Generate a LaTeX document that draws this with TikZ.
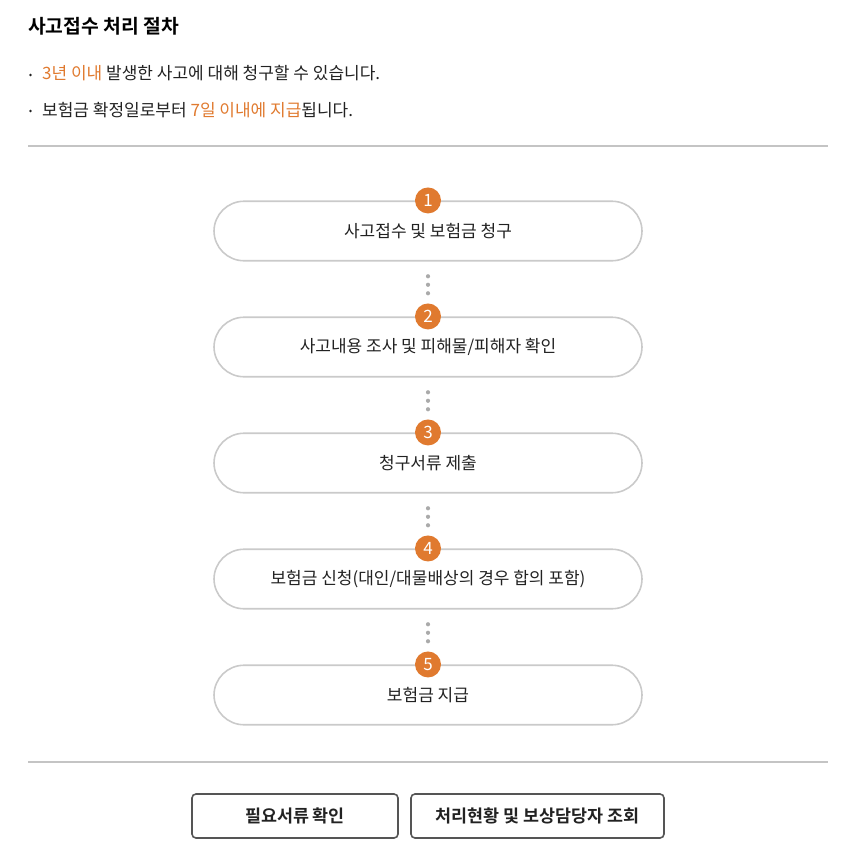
\documentclass[tikz,border=0pt]{standalone}
\usepackage{fontspec}
\setmainfont{Noto Sans CJK KR}
\newfontfamily\krbold{Noto Sans CJK KR Bold}
\definecolor{accent}{HTML}{E07A2F}
\definecolor{rule}{HTML}{C4C4C4}
\definecolor{stepborder}{HTML}{CACACA}
\definecolor{dotgray}{HTML}{AAAAAA}
\definecolor{txt}{HTML}{222222}
\definecolor{btnborder}{HTML}{555555}
\begin{document}
\begin{tikzpicture}[x=1pt,y=-1pt,
  stepbox/.style={draw=stepborder,line width=1.6pt,rounded corners=30pt,minimum width=428pt,minimum height=59.5pt,inner sep=0pt,text=txt,font=\fontsize{17}{20}\selectfont},
  numbadge/.style={circle,fill=accent,minimum size=26pt,inner sep=0pt,text=white,font=\fontsize{17}{20}\selectfont},
  dotline/.style={dotgray,line width=4.2pt,line cap=round,dash pattern=on 0pt off 8.5pt on 0pt off 8.5pt on 0pt off 100pt,dash phase=102.3pt},
  btn/.style={draw=btnborder,line width=1.6pt,rounded corners=4pt,minimum height=44pt,inner sep=0pt,text=txt,font=\krbold\fontsize{17.4}{20}\selectfont},
  sep/.style={rule,line width=1.6pt},
  bullet/.style={circle,fill=txt,inner sep=0pt,minimum size=2.8pt},
  bodytxt/.style={anchor=west,inner sep=0pt,text=txt,font=\fontsize{17}{20}\selectfont}
]
\useasboundingbox (0,0) rectangle (846,852);
% title
\node[anchor=west,inner sep=0pt,text=black,font=\krbold\fontsize{19.3}{23}\selectfont] (title) at (28,26) {사고접수 처리 절차};
% bullets
\node[bullet] (b1dot) at (30.5,75) {};
\node[bodytxt] (b1) at (42,73) {\textcolor{accent}{3년 이내} 발생한 사고에 대해 청구할 수 있습니다.};
\node[bullet] (b2dot) at (30.5,111) {};
\node[bodytxt] (b2) at (42,110) {보험금 확정일로부터 \textcolor{accent}{7일 이내에 지급}됩니다.};
% separators
\coordinate (l1a) at (28,146); \coordinate (l1b) at (828,146);
\draw[sep] (l1a) -- (l1b);
\coordinate (l2a) at (28,762); \coordinate (l2b) at (828,762);
\draw[sep] (l2a) -- (l2b);
% steps
\node[stepbox] (s1) at (428,231) {사고접수 및 보험금 청구};
\node[stepbox] (s2) at (428,347) {사고내용 조사 및 피해물/피해자 확인};
\node[stepbox] (s3) at (428,463) {청구서류 제출};
\node[stepbox] (s4) at (428,579) {보험금 신청(대인/대물배상의 경우 합의 포함)};
\node[stepbox] (s5) at (428,695) {보험금 지급};
\foreach \i in {1,...,5}{
  \node[numbadge] (n\i) at (s\i.north) {\i};
}
\draw[dotline] (s1.south) -- (n2.north);
\draw[dotline] (s2.south) -- (n3.north);
\draw[dotline] (s3.south) -- (n4.north);
\draw[dotline] (s4.south) -- (n5.north);
% buttons
\node[btn,minimum width=206pt] (bt1) at (295,816) {필요서류 확인};
\node[btn,minimum width=253pt] (bt2) at (537.5,816) {처리현황 및 보상담당자 조회};
\end{tikzpicture}
\end{document}
